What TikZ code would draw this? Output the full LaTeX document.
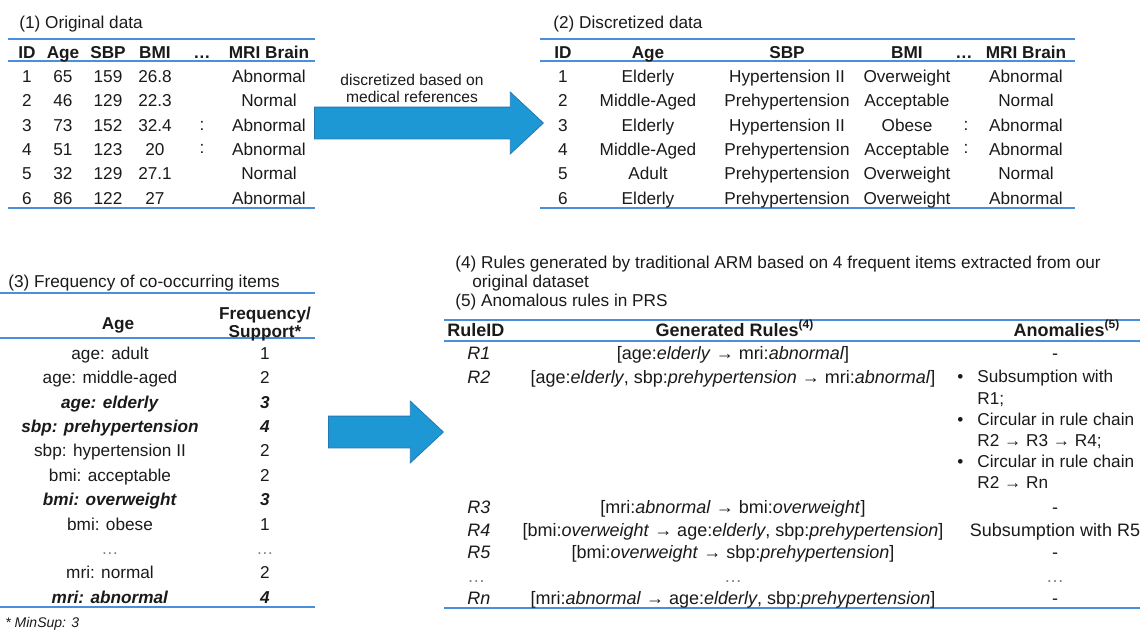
\documentclass[tikz,border=0pt]{standalone}
\usepackage{fontspec}
\setmainfont{Liberation Sans}
\usetikzlibrary{shapes.arrows}
\definecolor{tInk}  {HTML}{1A1A1A}
\definecolor{tLine} {HTML}{4A8FDB}
\definecolor{tDots} {HTML}{808080}
\definecolor{aFill} {HTML}{1E98D4}
\definecolor{aEdge} {HTML}{2479B0}
\newcommand\bfit[1]{\textbf{\textit{#1}}}

\begin{document}
\begin{tikzpicture}[
  x=0.5pt, y=-0.5pt,
  txt/.style={inner sep=0pt, text=tInk, font=\fontsize{8.6}{10}\selectfont},
  cell/.style={txt, text height=1.5ex, text depth=.3ex},
  hd/.style={cell, font=\fontsize{8.6}{10}\selectfont\bfseries},
  ttl/.style={cell, anchor=west, font=\fontsize{8.6}{10}\selectfont},
  rc/.style={cell, font=\fontsize{9}{10}\selectfont},
  rhd/.style={cell, font=\fontsize{9}{10}\selectfont\bfseries},
  rl/.style={draw=tLine, line width=1pt},
  bigar/.style={single arrow, fill=aFill, draw=aEdge, line width=0.4pt,
                inner xsep=0pt, inner ysep=7.75pt, single arrow head extend=7.5pt,
                single arrow tip angle=86, minimum width=30.5pt, anchor=tail},
]
\useasboundingbox (0,0) rectangle (1140,629);

% ---------------------------------------------------------------- (1) original data
\node[ttl] (t1) at (19,22) {(1) Original data};
\draw[rl] (8,39) -- (315,39);
\draw[rl] (8,61) -- (315,61);
\draw[rl] (8,208) -- (315,208);
\node[hd] (o-id)  at (27,52)  {ID};
\node[hd] (o-age) at (63,52)  {Age};
\node[hd] (o-sbp) at (108,52) {SBP};
\node[hd] (o-bmi) at (155,52) {BMI};
\node[hd] (o-dt)  at (202,52) {…};
\node[hd] (o-mri) at (269,52) {MRI Brain};
\foreach \i/\ag/\sb/\bm/\mr in {1/65/159/26.8/Abnormal, 2/46/129/22.3/Normal,
    3/73/152/32.4/Abnormal, 4/51/123/20/Abnormal, 5/32/129/27.1/Normal, 6/86/122/27/Abnormal}{
  \pgfmathsetmacro\yy{76+24.4*(\i-1)}
  \node[cell] (o\i-id)  at (27,\yy)  {\i};
  \node[cell] (o\i-age) at (63,\yy)  {\ag};
  \node[cell] (o\i-sbp) at (108,\yy) {\sb};
  \node[cell] (o\i-bmi) at (155,\yy) {\bm};
  \node[cell] (o\i-mri) at (269,\yy) {\mr};
}
\node[cell] (o3-dt) at (202,124) {:};
\node[cell] (o4-dt) at (202,147) {:};

% ---------------------------------------------------------------- arrow 1
\node[bigar, minimum height=114.5pt] (arA) at (314,123) {};
\node[txt, align=center, font=\fontsize{7.8}{8.5}\selectfont] (arAl) at (412,88)
  {discretized based on\\medical references};

% ---------------------------------------------------------------- (2) discretized data
\node[ttl] (t2) at (553,22) {(2) Discretized data};
\draw[rl] (540,39) -- (1075,39);
\draw[rl] (540,61) -- (1075,61);
\draw[rl] (540,208) -- (1075,208);
\node[hd] (d-id)  at (563,52)  {ID};
\node[hd] (d-age) at (648,52)  {Age};
\node[hd] (d-sbp) at (787,52)  {SBP};
\node[hd] (d-bmi) at (907,52)  {BMI};
\node[hd] (d-dt)  at (964,52)  {…};
\node[hd] (d-mri) at (1026,52) {MRI Brain};
\foreach \i/\ag/\sb/\bm/\mr in {1/Elderly/Hypertension II/Overweight/Abnormal,
    2/Middle-Aged/Prehypertension/Acceptable/Normal,
    3/Elderly/Hypertension II/Obese/Abnormal,
    4/Middle-Aged/Prehypertension/Acceptable/Abnormal,
    5/Adult/Prehypertension/Overweight/Normal,
    6/Elderly/Prehypertension/Overweight/Abnormal}{
  \pgfmathsetmacro\yy{76+24.4*(\i-1)}
  \node[cell] (d\i-id)  at (563,\yy)  {\i};
  \node[cell] (d\i-age) at (648,\yy)  {\ag};
  \node[cell] (d\i-sbp) at (787,\yy)  {\sb};
  \node[cell] (d\i-bmi) at (907,\yy)  {\bm};
  \node[cell] (d\i-mri) at (1026,\yy) {\mr};
}
\node[cell] (d3-dt) at (966,124) {:};
\node[cell] (d4-dt) at (966,147) {:};

% ---------------------------------------------------------------- (3) frequency
\node[ttl] (t3) at (8,281) {(3) Frequency of co-occurring items};
\draw[rl] (0,293) -- (315,293);
\draw[rl] (0,338) -- (315,338);
\draw[rl] (0,607) -- (315,607);
\node[hd] (f-itm) at (118,323) {Age};
\node[txt, align=center, font=\fontsize{8.6}{7.2}\selectfont\bfseries] (f-fq) at (265,324)
  {Frequency/\\Support*};
\foreach \k/\itm/\fq in {1/age: adult/1, 2/age: middle-aged/2, 3/\bfit{age: elderly}/\bfit{3},
    4/\bfit{sbp: prehypertension}/\bfit{4}, 5/sbp: hypertension II/2, 6/bmi: acceptable/2,
    7/\bfit{bmi: overweight}/\bfit{3}, 8/bmi: obese/1, 10/mri: normal/2,
    11/\bfit{mri: abnormal}/\bfit{4}}{
  \pgfmathsetmacro\yy{353+24.4*(\k-1)}
  \node[cell] (f\k-itm) at (110,\yy) {\itm};
  \node[cell] (f\k-fq)  at (265,\yy) {\fq};
}
\node[cell, text=tDots] (f9-itm) at (110,548) {…};
\node[cell, text=tDots] (f9-fq)  at (265,548) {…};
\node[ttl, font=\fontsize{7}{8}\selectfont\itshape] (fnote) at (5,621) {* MinSup: 3};

% ---------------------------------------------------------------- arrow 2
\node[bigar, minimum height=57.5pt] (arB) at (328,432) {};

% ---------------------------------------------------------------- (4)(5) rules
\node[ttl] (t4)  at (455,262)
  {(4) Rules generated by traditional ARM based on 4 frequent items extracted from our};
\node[ttl] (t4b) at (472,281) {original dataset};
\node[ttl] (t5)  at (455,300) {(5) Anomalous rules in PRS};
\draw[rl] (444,320) -- (1140,320);
\draw[rl] (444,341) -- (1140,341);
\draw[rl] (444,608) -- (1140,608);
\node[rhd, anchor=west] (r-id) at (447,330) {RuleID};
\node[rhd] (r-rule) at (735,330) {Generated Rules\textsuperscript{(4)}};
\node[rhd] (r-an)   at (1067,330) {Anomalies\textsuperscript{(5)}};
\foreach \rid/\yy/\rul in {
    R1/353/{[age:\textit{elderly} → mri:\textit{abnormal}]},
    R2/377/{[age:\textit{elderly}, sbp:\textit{prehypertension} → mri:\textit{abnormal}]},
    R3/507/{[mri:\textit{abnormal} → bmi:\textit{overweight}]},
    R4/530/{[bmi:\textit{overweight} → age:\textit{elderly}, sbp:\textit{prehypertension}]},
    R5/552/{[bmi:\textit{overweight} → sbp:\textit{prehypertension}]},
    Rn/598/{[mri:\textit{abnormal} → age:\textit{elderly}, sbp:\textit{prehypertension}]}}{
  \node[rc, anchor=west] (\rid-id) at (467,\yy) {\textit{\rid}};
  \node[rc] (\rid-rule) at (733,\yy) {\rul};
}
\foreach \rid/\yy/\ano in {R1/353/-, R3/507/-, R4/530/Subsumption with R5, R5/552/-, Rn/598/-}
  \node[rc] (\rid-an) at (1055,\yy) {\ano};
\node[txt, anchor=north west, align=left, font=\fontsize{8.6}{10.6}\selectfont] (R2-an) at (957,370)
  {\makebox[10pt][l]{•}Subsumption with\\
   \hspace*{10pt}R1;\\
   \makebox[10pt][l]{•}Circular in rule chain\\
   \hspace*{10pt}R2 → R3 → R4;\\
   \makebox[10pt][l]{•}Circular in rule chain\\
   \hspace*{10pt}R2 → Rn};
\node[rc, text=tDots, anchor=west] (Rd-id) at (467,576) {…};
\node[rc, text=tDots] (Rd-rule) at (733,576) {…};
\node[rc, text=tDots] (Rd-an)   at (1055,576) {…};

\end{tikzpicture}
\end{document}
